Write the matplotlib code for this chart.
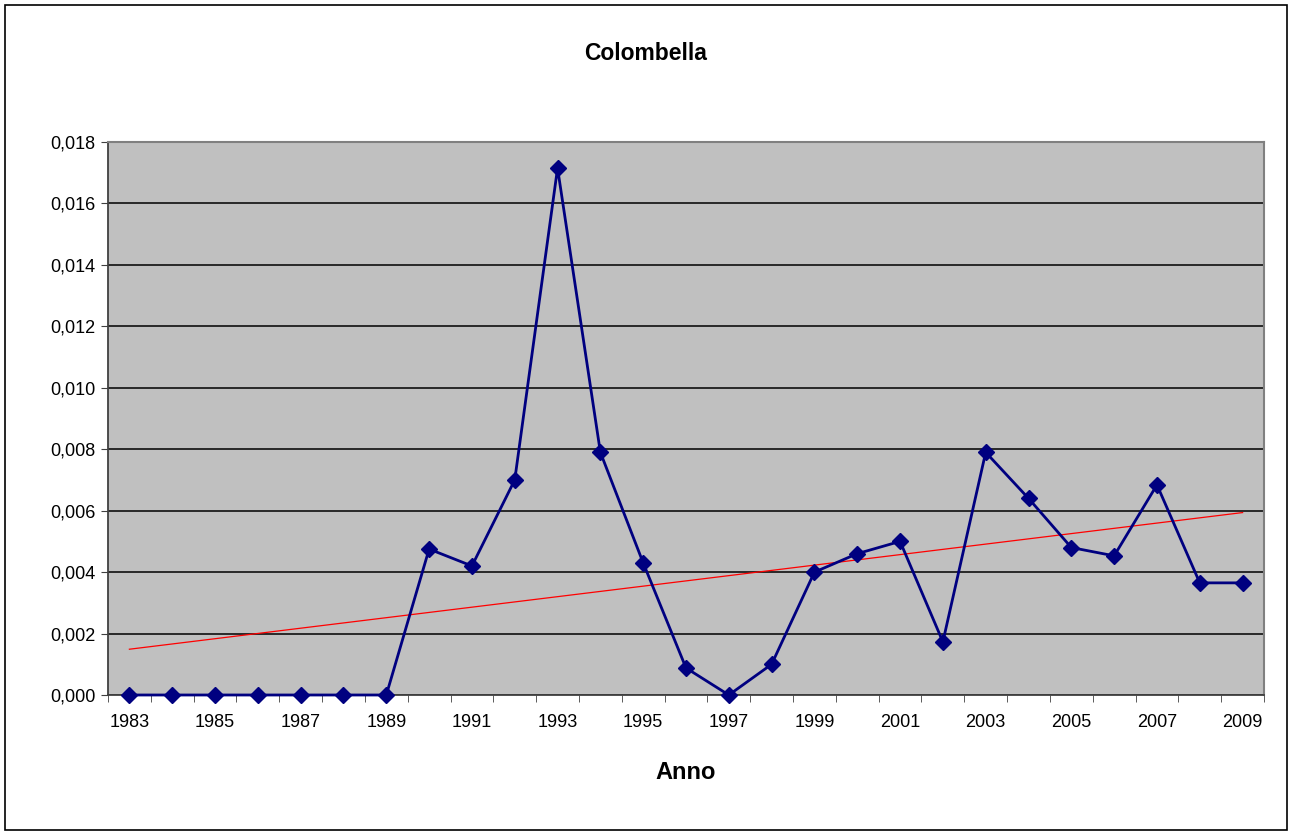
import matplotlib
matplotlib.use("Agg")
import matplotlib.pyplot as plt
import numpy as np
from matplotlib.patches import Rectangle
from matplotlib.ticker import FuncFormatter, MultipleLocator

plt.rcParams['font.family'] = ['Liberation Sans', 'DejaVu Sans']

# dati
anni = list(range(1983, 2010))
valori = [0.0, 0.0, 0.0, 0.0, 0.0, 0.0, 0.0,
          0.00475, 0.0042, 0.0070, 0.01715, 0.0079, 0.0043, 0.00088,
          0.0, 0.0010, 0.0040, 0.0046, 0.0050, 0.00173, 0.0079,
          0.0064, 0.0048, 0.00453, 0.00684, 0.00365, 0.00365]
etichette = [str(a) if (a - 1983) % 2 == 0 else '' for a in anni]

x = np.arange(len(anni))
y = np.array(valori)
# linea di tendenza lineare
coef = np.polyfit(x, y, 1)
trend = np.polyval(coef, x)

fig = plt.figure(figsize=(12.92, 8.32), dpi=100)
ax = fig.add_axes([108 / 1292, 1 - 695 / 832, (1264 - 108) / 1292, (695 - 142) / 832])

ax.set_facecolor('#C0C0C0')
ax.plot(x, y, color='#000080', lw=2.0, marker='D', ms=8.5, zorder=4, clip_on=False)
ax.plot(x, trend, color='red', lw=0.9, zorder=3)

ax.set_xlim(-0.5, len(anni) - 0.5)
ax.set_ylim(0, 0.018)
ax.yaxis.set_major_locator(MultipleLocator(0.002))
ax.yaxis.set_major_formatter(FuncFormatter(lambda v, p: f'{v:.3f}'.replace('.', ',')))
ax.grid(axis='y', color='black', lw=1.1, zorder=1)
ax.set_axisbelow(True)

ax.set_xticks(x)
ax.set_xticklabels(etichette)
ax.set_xticks(np.arange(-0.5, len(anni), 1.0), minor=True)
ax.tick_params(axis='x', which='major', length=0, pad=14, labelsize=13)
ax.tick_params(axis='x', which='minor', length=5, color='#404040')
ax.tick_params(axis='y', length=5, color='#404040', labelsize=13, pad=4)

for s in ['left', 'bottom']:
    ax.spines[s].set_color('#404040')
    ax.spines[s].set_linewidth(1.3)
for s in ['top', 'right']:
    ax.spines[s].set_color('#808080')
    ax.spines[s].set_linewidth(1.5)

ax.set_xlabel('Anno', fontsize=17, fontweight='bold', labelpad=21)
fig.text(0.5, 1 - 53 / 832, 'Colombella', ha='center', va='center', fontsize=16.5, fontweight='bold')

# bordo esterno del grafico
fig.patches.append(Rectangle((5 / 1292, 2 / 832), 1282 / 1292, 825 / 832, transform=fig.transFigure,
                             fill=False, edgecolor='black', lw=1.2))

fig.savefig('out.png', dpi=100)
